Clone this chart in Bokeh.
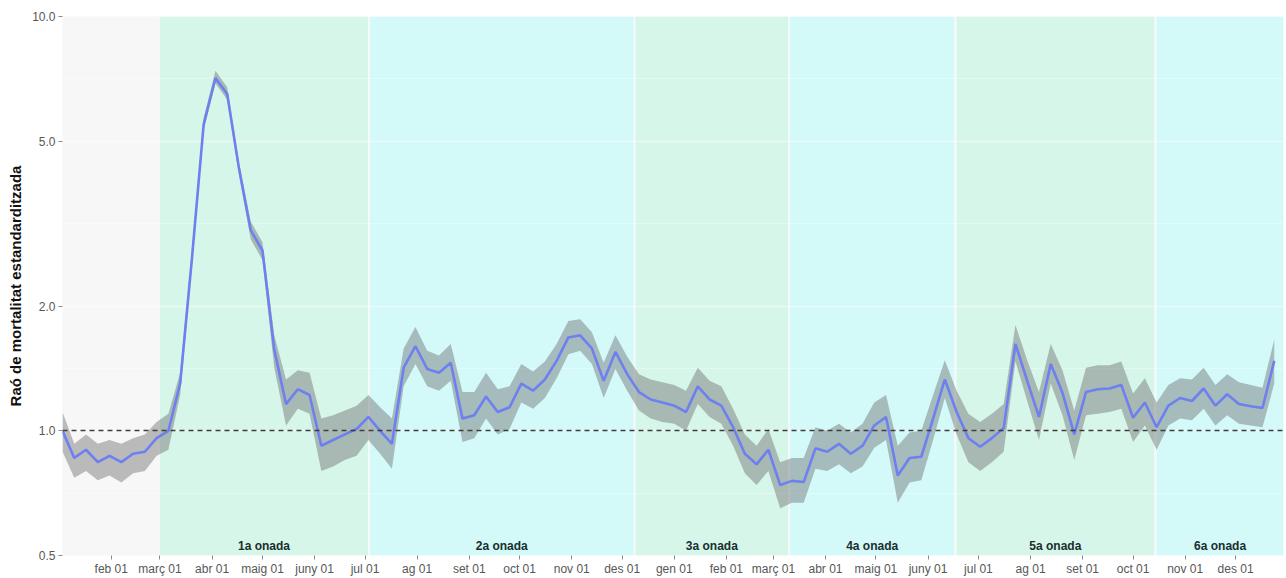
import pandas as pd
from bokeh.plotting import figure
from bokeh.models import Range1d, FixedTicker, PrintfTickFormatter, ColumnDataSource
from bokeh.core.properties import value
from bokeh.embed import file_html
from bokeh.resources import INLINE

# Weekly standardised mortality ratio (SMR) with its confidence band
first_week = "2020-01-03"
smr = [
    1.00, 0.86, 0.90, 0.84, 0.87, 0.84, 0.88, 0.89, 0.96, 1.00,
    1.30, 2.60, 5.50, 7.10, 6.50, 4.30, 3.05, 2.72, 1.57, 1.16,
    1.26, 1.22, 0.92, 0.95, 0.98, 1.01, 1.08, 1.00, 0.93, 1.42,
    1.60, 1.41, 1.38, 1.46, 1.07, 1.09, 1.21, 1.11, 1.14, 1.30,
    1.25, 1.33, 1.475, 1.68, 1.70, 1.58, 1.32, 1.55, 1.37, 1.24,
    1.19, 1.17, 1.15, 1.11, 1.28, 1.19, 1.15, 1.02, 0.88, 0.83,
    0.90, 0.74, 0.757, 0.752, 0.907, 0.89, 0.93, 0.88, 0.92, 1.03,
    1.08, 0.78, 0.86, 0.866, 1.07, 1.33, 1.11, 0.96, 0.915, 0.96,
    1.015, 1.62, 1.32, 1.08, 1.45, 1.235, 0.98, 1.24, 1.26, 1.265,
    1.29, 1.075, 1.17, 1.02, 1.15, 1.20, 1.18, 1.265, 1.15, 1.225,
    1.16, 1.146, 1.135, 1.475,
]
smr_low = [
    0.89, 0.77, 0.80, 0.76, 0.78, 0.75, 0.79, 0.80, 0.87, 0.90,
    1.22, 2.50, 5.30, 6.90, 6.30, 4.15, 2.90, 2.58, 1.42, 1.03,
    1.13, 1.10, 0.80, 0.82, 0.85, 0.87, 0.95, 0.88, 0.81, 1.28,
    1.45, 1.28, 1.25, 1.32, 0.94, 0.96, 1.07, 0.98, 1.01, 1.17,
    1.13, 1.20, 1.34, 1.53, 1.56, 1.45, 1.20, 1.41, 1.25, 1.12,
    1.07, 1.05, 1.04, 1.00, 1.16, 1.08, 1.04, 0.92, 0.79, 0.74,
    0.80, 0.65, 0.67, 0.67, 0.81, 0.80, 0.83, 0.79, 0.82, 0.91,
    0.95, 0.67, 0.75, 0.76, 0.95, 1.20, 0.98, 0.84, 0.80, 0.84,
    0.89, 1.47, 1.18, 0.95, 1.30, 1.09, 0.85, 1.09, 1.10, 1.11,
    1.13, 0.94, 1.03, 0.90, 1.03, 1.07, 1.06, 1.13, 1.03, 1.09,
    1.04, 1.03, 1.02, 1.30,
]
smr_high = [
    1.11, 0.93, 0.98, 0.93, 0.95, 0.93, 0.96, 0.98, 1.05, 1.10,
    1.38, 2.72, 5.70, 7.40, 6.75, 4.45, 3.20, 2.85, 1.70, 1.33,
    1.40, 1.38, 1.07, 1.09, 1.12, 1.15, 1.22, 1.14, 1.07, 1.58,
    1.78, 1.56, 1.52, 1.62, 1.24, 1.24, 1.38, 1.26, 1.28, 1.45,
    1.39, 1.47, 1.62, 1.84, 1.86, 1.73, 1.46, 1.70, 1.51, 1.37,
    1.33, 1.31, 1.29, 1.25, 1.42, 1.32, 1.28, 1.13, 0.98, 0.92,
    1.01, 0.84, 0.86, 0.86, 1.02, 1.00, 1.04, 0.99, 1.04, 1.17,
    1.22, 0.92, 0.99, 1.00, 1.22, 1.48, 1.25, 1.10, 1.05, 1.10,
    1.16, 1.80, 1.48, 1.24, 1.62, 1.40, 1.12, 1.42, 1.44, 1.44,
    1.47, 1.23, 1.34, 1.17, 1.29, 1.34, 1.33, 1.42, 1.29, 1.37,
    1.31, 1.29, 1.27, 1.66,
]

# Epidemic waves
wave_names = ["1a onada", "2a onada", "3a onada", "4a onada", "5a onada", "6a onada"]
wave_start = ["2020-03-01", "2020-07-04", "2020-12-09", "2021-03-11", "2021-06-18", "2021-10-15"]
wave_end = ["2020-07-02 18:00", "2020-12-07 18:00", "2021-03-09 18:00",
            "2021-06-16 12:00", "2021-10-13 12:00", "2021-12-29 12:00"]
wave_fill = ["#d6f6ea", "#d3f9f9", "#d6f6ea", "#d3f9f9", "#d6f6ea", "#d3f9f9"]

# Month ticks (Catalan labels)
month_ticks = [
    "2020-02-01", "2020-03-01", "2020-04-01", "2020-05-01", "2020-06-01", "2020-07-01",
    "2020-08-01", "2020-09-01", "2020-10-01", "2020-11-01", "2020-12-01", "2021-01-01",
    "2021-02-01", "2021-03-01", "2021-04-01", "2021-05-01", "2021-06-01", "2021-07-01",
    "2021-08-01", "2021-09-01", "2021-10-01", "2021-11-01", "2021-12-01",
]
month_labels = [
    "feb 01", "març 01", "abr 01", "maig 01", "juny 01", "jul 01",
    "ag 01", "set 01", "oct 01", "nov 01", "des 01", "gen 01",
    "feb 01", "març 01", "abr 01", "maig 01", "juny 01", "jul 01",
    "ag 01", "set 01", "oct 01", "nov 01", "des 01",
]
y_ticks = [0.5, 1.0, 2.0, 5.0, 10.0]

FONT = "Liberation Sans"

weeks = pd.date_range(first_week, periods=len(smr), freq="7D")
src = ColumnDataSource(dict(week=weeks, smr=smr, low=smr_low, high=smr_high))

x_start = pd.Timestamp("2020-01-03")
x_end = pd.Timestamp("2021-12-29 12:00")

p = figure(
    width=1286, height=578,
    x_axis_type="datetime", y_axis_type="log",
    x_range=Range1d(x_start, x_end), y_range=Range1d(0.5, 10.0),
    output_backend="svg", toolbar_location=None,
    min_border_left=62, min_border_right=3, min_border_top=16, min_border_bottom=23,
)
p.outline_line_color = None
p.background_fill_color = "#f4f9f9"
p.border_fill_color = "white"
p.xgrid.visible = False
p.ygrid.visible = False

# Background bands: pre-pandemic period and each wave
p.quad(left=[x_start], right=[pd.Timestamp(wave_start[0])], bottom=0.5, top=10.0,
       fill_color="#f7f7f7", line_color=None)
ws = [pd.Timestamp(d) for d in wave_start]
we = [pd.Timestamp(d) for d in wave_end]
p.quad(left=ws, right=we, bottom=0.5, top=10.0, fill_color=wave_fill, line_color=None)

# Faint grid lines showing through the bands
p.hspan(y=[1.0, 2.0, 5.0], line_color="white", line_alpha=0.45, line_width=1.6)
p.hspan(y=[0.7071, 1.4142, 3.1623, 7.0711], line_color="white", line_alpha=0.35, line_width=1)

# Confidence band and SMR line
p.varea(x="week", y1="low", y2="high", source=src, fill_color="#6e6e6e", fill_alpha=0.45)
p.line(x="week", y="smr", source=src, line_color="#6e80f0", line_width=2.6)

# Reference line at SMR = 1
p.hspan(y=[1.0], line_color="#3d3d3d", line_width=1.3, line_dash="5 4")

# Wave labels
centers = [a + (b - a) / 2 for a, b in zip(ws, we)]
p.text(x=centers, y=[0.528] * len(centers), text=wave_names,
       text_font=value(FONT), text_font_style="bold", text_font_size="12px",
       text_color="#1b2e2e", text_align="center", text_baseline="middle")

# Axes
tick_ms = [pd.Timestamp(d).value // 10**6 for d in month_ticks]
xa = p.xaxis[0]
xa.ticker = FixedTicker(ticks=tick_ms)
xa.major_label_overrides = {t: lab for t, lab in zip(tick_ms, month_labels)}
xa.axis_line_color = None
xa.major_tick_line_color = "#8a8a8a"
xa.major_tick_out = 4
xa.major_tick_in = 0
xa.minor_tick_line_color = None
xa.major_label_standoff = 2
xa.major_label_text_font = FONT
xa.major_label_text_font_size = "12px"
xa.major_label_text_color = "#575757"

ya = p.yaxis[0]
ya.ticker = FixedTicker(ticks=y_ticks)
ya.formatter = PrintfTickFormatter(format="%.1f")
ya.axis_line_color = None
ya.major_tick_line_color = "#8a8a8a"
ya.major_tick_out = 4
ya.major_tick_in = 0
ya.minor_tick_line_color = None
ya.major_label_standoff = 3
ya.major_label_text_font = FONT
ya.major_label_text_font_size = "12px"
ya.major_label_text_color = "#575757"
ya.axis_label = "Raó de mortalitat estandarditzada"
ya.axis_label_text_font = FONT
ya.axis_label_text_font_style = "bold"
ya.axis_label_text_font_size = "15px"
ya.axis_label_text_color = "#111111"
ya.axis_label_standoff = 5

open("out.html", "w").write(file_html(p, INLINE))
